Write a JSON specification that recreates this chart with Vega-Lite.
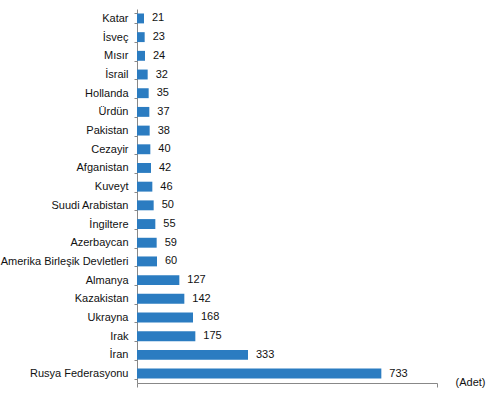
{
  "$schema": "https://vega.github.io/schema/vega-lite/v6.json",
  "autosize": "none",
  "width": 300,
  "height": 374,
  "padding": {"left": 137, "top": 9, "right": 51, "bottom": 11},
  "background": "#ffffff",
  "config": {
    "view": {"stroke": null},
    "font": "Liberation Sans"
  },
  "data": {
    "values": [
      {"ulke": "Katar", "adet": 21},
      {"ulke": "İsveç", "adet": 23},
      {"ulke": "Mısır", "adet": 24},
      {"ulke": "İsrail", "adet": 32},
      {"ulke": "Hollanda", "adet": 35},
      {"ulke": "Ürdün", "adet": 37},
      {"ulke": "Pakistan", "adet": 38},
      {"ulke": "Cezayir", "adet": 40},
      {"ulke": "Afganistan", "adet": 42},
      {"ulke": "Kuveyt", "adet": 46},
      {"ulke": "Suudi Arabistan", "adet": 50},
      {"ulke": "İngiltere", "adet": 55},
      {"ulke": "Azerbaycan", "adet": 59},
      {"ulke": "Amerika Birleşik Devletleri", "adet": 60},
      {"ulke": "Almanya", "adet": 127},
      {"ulke": "Kazakistan", "adet": 142},
      {"ulke": "Ukrayna", "adet": 168},
      {"ulke": "Irak", "adet": 175},
      {"ulke": "İran", "adet": 333},
      {"ulke": "Rusya Federasyonu", "adet": 733}
    ]
  },
  "encoding": {
    "y": {
      "field": "ulke",
      "type": "nominal",
      "sort": {"field": "adet", "order": "ascending"},
      "scale": {"paddingInner": 0.47, "paddingOuter": 0.24},
      "axis": {
        "title": null,
        "domainColor": "#888888",
        "tickColor": "#888888",
        "tickSize": 3,
        "tickBand": "extent",
        "labelPadding": 6,
        "labelFontSize": 11,
        "labelColor": "#111111",
        "labelFont": "Liberation Sans"
      }
    },
    "x": {
      "field": "adet",
      "type": "quantitative",
      "scale": {"domain": [0, 900], "nice": false},
      "axis": {
        "title": "(Adet)",
        "values": [0, 900],
        "labels": false,
        "grid": false,
        "domainColor": "#888888",
        "tickColor": "#888888",
        "tickSize": 4,
        "titleFontSize": 11,
        "titleFontWeight": "normal",
        "titleColor": "#111111",
        "titleFont": "Liberation Sans",
        "titleAnchor": "start",
        "titleAlign": "center",
        "titleBaseline": "middle",
        "titleX": 333,
        "titleY": -1
      }
    }
  },
  "layer": [
    {"mark": {"type": "bar", "color": "#2b7cc1"}},
    {
      "mark": {"type": "text", "align": "left", "dx": 8, "fontSize": 11, "color": "#111111", "font": "Liberation Sans"},
      "encoding": {"text": {"field": "adet", "type": "quantitative"}}
    }
  ]
}
